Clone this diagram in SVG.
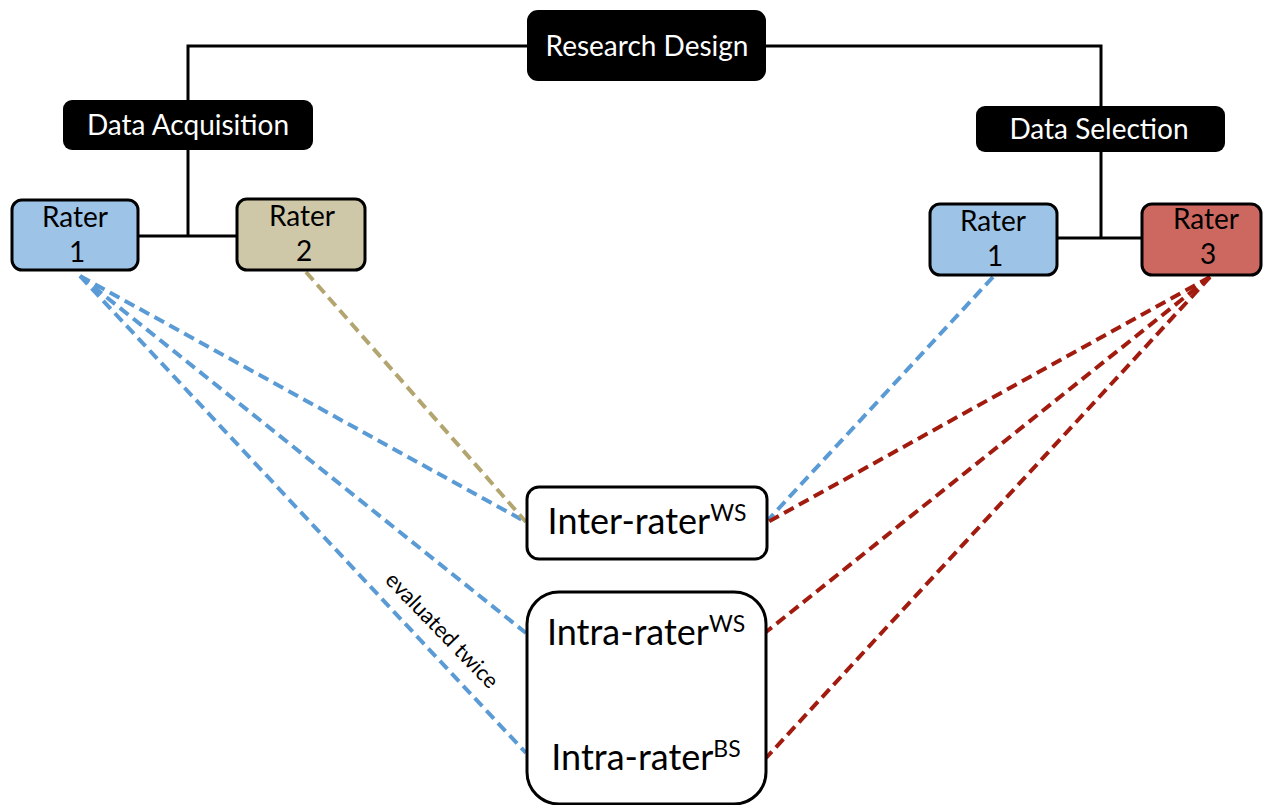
<svg xmlns="http://www.w3.org/2000/svg" width="1264" height="805" viewBox="0 0 1264 805">
  <style>
    .hdr rect { fill: #000; }
    .hdr text { fill: #fff; font-family: Lato, "Open Sans", sans-serif; font-size: 28px; text-anchor: middle; }
    .rater rect { stroke: #000; stroke-width: 3; }
    .rater text { fill: #000; font-family: Lato, "Open Sans", sans-serif; font-size: 28px; text-anchor: middle; }
    .metric rect { fill: #fff; stroke: #000; stroke-width: 3; }
    .metric text { fill: #000; font-family: Lato, "Open Sans", sans-serif; font-size: 36px; text-anchor: middle; }
    .sup { font-size: 23px; }
    .tree { fill: none; stroke: #000; stroke-width: 3; }
    .dash { fill: none; stroke-width: 4; stroke-dasharray: 11 6; }
    .blue { stroke: #5B9BD5; }
    .tan { stroke: #B3A570; }
    .red { stroke: #A11B0E; }
    .note { fill: #000; font-family: Lato, "Open Sans", sans-serif; font-size: 22px; }
  </style>

  <!-- hierarchy lines -->
  <g id="connectors">
    <polyline class="tree" points="527,46 188,46 188,101"/>
    <polyline class="tree" points="766,46 1101,46 1101,106"/>
    <line class="tree" x1="188" y1="150" x2="188" y2="236"/>
    <line class="tree" x1="138" y1="236" x2="237" y2="236"/>
    <line class="tree" x1="1101" y1="152" x2="1101" y2="238"/>
    <line class="tree" x1="1057" y1="238" x2="1142" y2="238"/>

    <!-- rating comparisons -->
    <line class="dash blue" x1="80" y1="276" x2="526" y2="522"/>
    <line class="dash blue" x1="80" y1="276" x2="526" y2="633"/>
    <line class="dash blue" x1="80" y1="276" x2="526" y2="753"/>
    <line class="dash tan" x1="306" y1="272" x2="526" y2="522"/>
    <line class="dash blue" x1="993" y1="277" x2="768" y2="520"/>
    <line class="dash red" x1="1210" y1="277" x2="768" y2="522"/>
    <line class="dash red" x1="1210" y1="277" x2="766" y2="632"/>
    <line class="dash red" x1="1210" y1="277" x2="766" y2="758"/>
    <text class="note" transform="translate(384,581) rotate(46)">evaluated twice</text>
  </g>

  <g id="research-design" class="hdr">
    <rect x="527" y="10" width="239" height="71" rx="11"/>
    <text x="647" y="56">Research Design</text>
  </g>

  <g id="data-acquisition" class="hdr">
    <rect x="63" y="100" width="250" height="50" rx="9"/>
    <text x="188" y="135">Data Acquisition</text>
  </g>

  <g id="data-selection" class="hdr">
    <rect x="976" y="106" width="249" height="46" rx="9"/>
    <text x="1099" y="139">Data Selection</text>
  </g>

  <g id="rater1-acq" class="rater">
    <rect x="12" y="200" width="126" height="70" rx="10" fill="#9DC3E6"/>
    <text x="75" y="227">Rater</text>
    <text x="77" y="262">1</text>
  </g>

  <g id="rater2-acq" class="rater">
    <rect x="237" y="199" width="128" height="71" rx="10" fill="#CEC8A8"/>
    <text x="302" y="226">Rater</text>
    <text x="304" y="261">2</text>
  </g>

  <g id="rater1-sel" class="rater">
    <rect x="930" y="204" width="127" height="71" rx="10" fill="#9DC3E6"/>
    <text x="993" y="231">Rater</text>
    <text x="995" y="266">1</text>
  </g>

  <g id="rater3-sel" class="rater">
    <rect x="1142" y="204" width="119" height="71" rx="10" fill="#CD6861"/>
    <text x="1206" y="229">Rater</text>
    <text x="1208" y="264">3</text>
  </g>

  <g id="inter-rater-ws" class="metric">
    <rect x="527" y="487" width="240" height="72" rx="12"/>
    <text x="647" y="534">Inter-rater<tspan class="sup" dy="-13">WS</tspan></text>
  </g>

  <g id="intra-rater" class="metric">
    <rect x="527" y="592" width="239" height="212" rx="32"/>
    <text x="646" y="645">Intra-rater<tspan class="sup" dy="-13">WS</tspan></text>
    <text x="646" y="770">Intra-rater<tspan class="sup" dy="-13">BS</tspan></text>
  </g>
</svg>
